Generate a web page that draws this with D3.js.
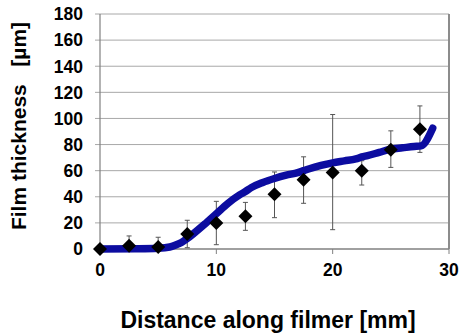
<!DOCTYPE html>
<html>
<head>
<meta charset="utf-8">
<script src="https://cdn.jsdelivr.net/npm/d3@7"></script>
<style>
  body { margin: 0; background: #fff; }
  svg { display: block; font-family: "Liberation Sans", Arial, sans-serif; }
</style>
</head>
<body>
<svg id="chart" width="460" height="335"></svg>
<script>
// measured points (diamonds) with error bars
const distances = [0, 2.5, 5, 7.5, 10, 12.5, 15, 17.5, 20, 22.5, 25, 27.5];
const thickness = [0, 2.5, 1.5, 11.5, 20, 25, 42, 53, 58.6, 60, 76, 91.8];
const errTop    = [0, 10, 9, 22, 36.5, 35.7, 59, 70.6, 103, 67.6, 90.5, 109.6];
const errBottom = [0, 0, 0, 1, 3.3, 14.3, 24, 35, 14.8, 49, 62.5, 74];

// model curve
const curveX = [0, 3, 5, 6, 6.5, 7, 7.5, 8, 9, 10, 11, 12, 12.5, 13, 14, 15, 16, 17, 17.5, 18, 19, 20, 21, 22, 22.5, 23, 24, 25, 26, 27, 27.6, 28.6];
const curveY = [0, 0.2, 0.6, 1.5, 3, 5, 8, 11.5, 19, 27, 35, 41.5, 44, 47, 51, 54, 56.5, 58.5, 60, 61.5, 64, 66, 67.5, 69, 70.5, 71.5, 74, 76.5, 77.5, 78.5, 79, 92.5];

const xTicks = [0, 10, 20, 30];
const yTicks = [0, 20, 40, 60, 80, 100, 120, 140, 160, 180];

const svg = d3.select("#chart");
const plotL = 100, plotR = 449, plotT = 14, plotB = 249;

const x = d3.scaleLinear().domain([0, 30]).range([plotL, plotR]);
const y = d3.scaleLinear().domain([0, 180]).range([plotB, plotT]);

// gridlines + left tick stubs
svg.append("g")
  .selectAll("line")
  .data(yTicks.filter(d => d > 0))
  .join("line")
  .attr("x1", plotL - 5)
  .attr("x2", plotR)
  .attr("y1", d => y(d))
  .attr("y2", d => y(d))
  .attr("stroke", "#a8a8a8")
  .attr("stroke-width", 1);

// frame
svg.append("line").attr("x1", plotL).attr("x2", plotL).attr("y1", plotT).attr("y2", plotB)
  .attr("stroke", "#808080").attr("stroke-width", 1.2);
svg.append("line").attr("x1", plotR).attr("x2", plotR).attr("y1", plotT).attr("y2", plotB)
  .attr("stroke", "#8c8c8c").attr("stroke-width", 2);
svg.append("line").attr("x1", plotL).attr("x2", plotR).attr("y1", plotB).attr("y2", plotB)
  .attr("stroke", "#808080").attr("stroke-width", 1.5);

// x tick marks
svg.append("g")
  .selectAll("line")
  .data(xTicks)
  .join("line")
  .attr("x1", d => x(d))
  .attr("x2", d => x(d))
  .attr("y1", plotB)
  .attr("y2", plotB + 5)
  .attr("stroke", "#808080");

// tick labels
svg.append("g")
  .selectAll("text")
  .data(yTicks)
  .join("text")
  .attr("x", 83)
  .attr("y", d => y(d))
  .attr("dy", "0.36em")
  .attr("text-anchor", "end")
  .attr("font-size", 17.5)
  .attr("font-weight", "bold")
  .text(d => d);

svg.append("g")
  .selectAll("text")
  .data(xTicks)
  .join("text")
  .attr("x", d => x(d))
  .attr("y", 276)
  .attr("text-anchor", "middle")
  .attr("font-size", 17.5)
  .attr("font-weight", "bold")
  .text(d => d);

// error bars
const errG = svg.append("g").attr("stroke", "#555").attr("stroke-width", 1);
distances.forEach((d, i) => {
  if (errTop[i] === errBottom[i]) return;
  errG.append("line").attr("x1", x(d)).attr("x2", x(d))
    .attr("y1", y(errTop[i])).attr("y2", y(errBottom[i]));
  [errTop[i], errBottom[i]].forEach(v => {
    errG.append("line").attr("x1", x(d) - 2.5).attr("x2", x(d) + 2.5)
      .attr("y1", y(v)).attr("y2", y(v));
  });
});

// model curve
const line = d3.line()
  .x(d => x(d[0]))
  .y(d => y(d[1]))
  .curve(d3.curveMonotoneX);

svg.append("path")
  .datum(curveX.map((v, i) => [v, curveY[i]]))
  .attr("fill", "none")
  .attr("stroke", "#0c0ca0")
  .attr("stroke-width", 7.5)
  .attr("stroke-linejoin", "round")
  .attr("stroke-linecap", "round")
  .attr("d", line);

// diamonds
svg.append("g")
  .selectAll("path")
  .data(distances)
  .join("path")
  .attr("transform", (d, i) => `translate(${x(d)},${y(thickness[i])})`)
  .attr("d", "M0,-7L7,0L0,7L-7,0Z")
  .attr("fill", "#000");

// axis titles
svg.append("text")
  .attr("transform", "translate(26,126) rotate(-90)")
  .attr("text-anchor", "middle")
  .attr("font-size", 21)
  .attr("font-weight", "bold")
  .attr("xml:space", "preserve")
  .text("Film thickness   [µm]");

svg.append("text")
  .attr("x", 268)
  .attr("y", 328)
  .attr("text-anchor", "middle")
  .attr("font-size", 23)
  .attr("font-weight", "bold")
  .text("Distance along filmer [mm]");
</script>
</body>
</html>
